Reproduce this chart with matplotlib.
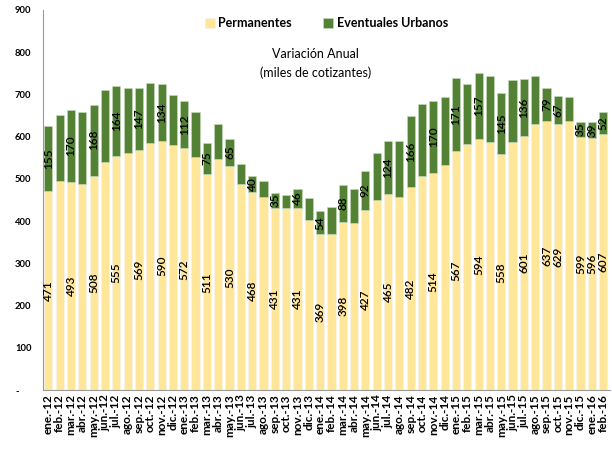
import numpy as np
import matplotlib.pyplot as plt

plt.rcParams['font.family'] = ['Lato', 'DejaVu Sans']

meses = ['ene', 'feb', 'mar', 'abr', 'may', 'jun', 'jul', 'ago', 'sep', 'oct', 'nov', 'dic']
periodos = [f'{m}.-{a}' for a in range(12, 16) for m in meses] + ['ene.-16', 'feb.-16']

permanentes = [471, 494, 493, 489, 508, 539, 555, 561, 569, 585, 590, 580,
               572, 551, 511, 548, 530, 489, 468, 456, 431, 431, 431, 403,
               369, 370, 398, 396, 427, 449, 465, 458, 482, 507, 514, 532,
               567, 582, 594, 587, 558, 587, 601, 629, 637, 629, 637, 599,
               596, 607]
eventuales = [155, 157, 170, 170, 168, 172, 164, 155, 147, 143, 134, 119,
              112, 107, 75, 81, 65, 46, 40, 38, 35, 32, 46, 51,
              54, 64, 88, 81, 92, 112, 124, 132, 166, 171, 170, 163,
              171, 143, 157, 157, 145, 146, 136, 115, 79, 67, 56, 35,
              39, 52]
# barras con etiqueta de valor
con_etiqueta = list(range(0, 45, 2)) + [45, 47, 48, 49]

amarillo = '#FFE699'
verde = '#548235'

fig = plt.figure(figsize=(6.12, 4.49), dpi=100)
ax = fig.add_axes([0.070, 0.131, 0.927, 0.847])

x = np.arange(len(periodos))
ax.bar(x, permanentes, width=0.72, color=amarillo, edgecolor='#f4f4f4', lw=0.4, label='Permanentes')
ax.bar(x, eventuales, width=0.72, bottom=permanentes, color=verde, edgecolor='#c8dcc0', lw=0.4,
       label='Eventuales Urbanos')

for i in con_etiqueta:
    p, e = permanentes[i], eventuales[i]
    ax.text(i, p / 2, str(p), rotation=90, ha='center', va='center', fontsize=8.5, fontweight='semibold')
    ax.text(i, p + e / 2, str(e), rotation=90, ha='center', va='center', fontsize=8.5, fontweight='semibold')

ax.set_xlim(-0.49, 49.62)
ax.set_ylim(0, 900)
ax.set_xticks(x)
ax.set_xticklabels(periodos, rotation=90, fontsize=8.5, fontweight='bold')
ax.set_yticks(range(0, 901, 100))
ax.set_yticklabels(['-'] + [str(v) for v in range(100, 901, 100)], fontsize=6.8, fontweight='bold')
ax.tick_params(length=0, pad=3)
ax.tick_params(axis='y', pad=20)
for lab in ax.get_yticklabels():
    lab.set_horizontalalignment('left')

for s in ['top', 'right']:
    ax.spines[s].set_visible(False)
for s in ['left', 'bottom']:
    ax.spines[s].set_color('#9a9a9a')
    ax.spines[s].set_linewidth(0.8)

ax.text(0.48, 0.86, 'Variación Anual\n(miles de cotizantes)', transform=ax.transAxes,
        ha='center', va='center', fontsize=9, linespacing=1.6)
ax.legend(loc='upper center', bbox_to_anchor=(0.5, 1.01), ncol=2, frameon=False,
          prop={'weight': 'bold', 'size': 9}, handlelength=0.8, handleheight=0.8,
          columnspacing=2.5, handletextpad=0.3)

fig.savefig('out.png', dpi=100)
